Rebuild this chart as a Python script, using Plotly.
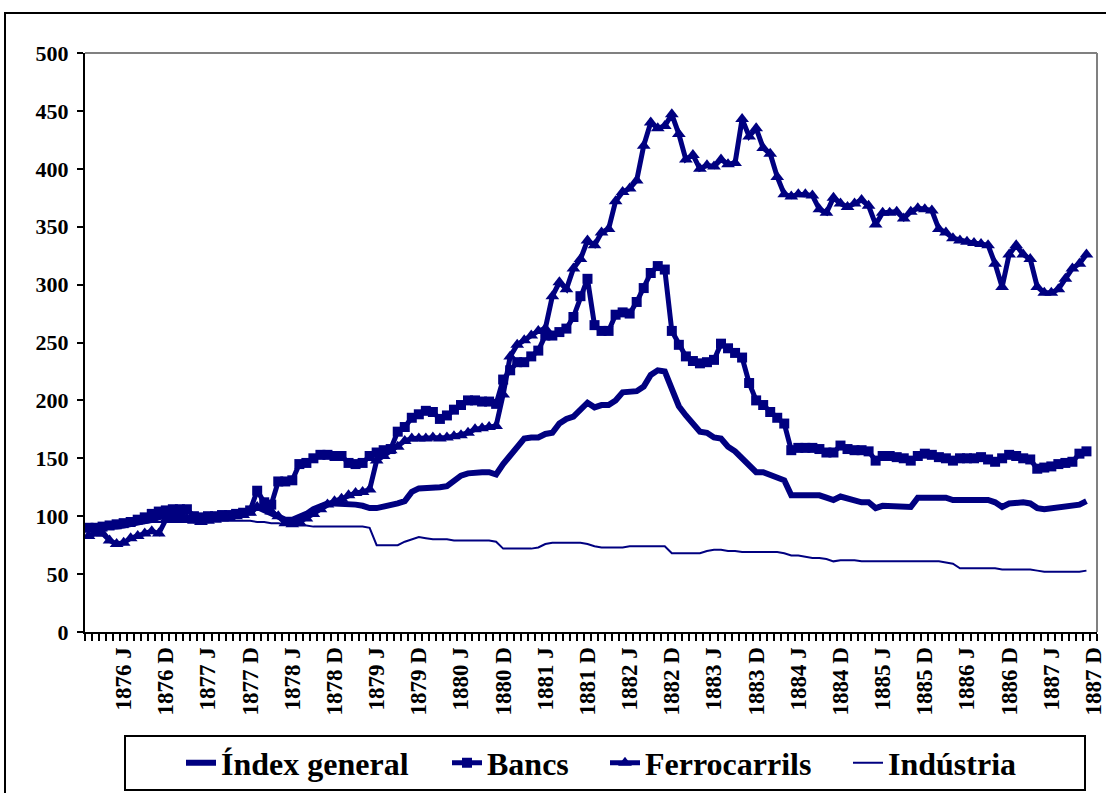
import plotly.graph_objects as go

# ---------------- data (monthly, Jan 1876 onwards) ----------------
years = list(range(1876, 1888))
months = [f"{y}-{m:02d}" for y in years for m in range(1, 13)]
tick_idx = [i for i, mth in enumerate(months) if mth.endswith("-06") or mth.endswith("-12")]
tick_text = [months[i][:4] + (" J" if months[i].endswith("-06") else " D") for i in tick_idx]

index_general = [
    90, 90, 91, 91, 91, 92, 93, 94, 95, 97, 99, 101,
    101, 100, 98, 98, 98, 99, 100, 101, 101, 102, 103, 104,
    108, 105, 103, 100, 97, 97, 99, 102, 106, 109, 111, 111,
    111, 111, 110, 109, 107, 107, 108, 109, 111, 113, 121, 124,
    124, 124, 125, 126, 130, 135, 137, 138, 138, 138, 136, 145,
    152, 160, 167, 168, 168, 171, 172, 180, 184, 186, 192, 198,
    194, 196, 196, 200, 207, 207, 208, 212, 222, 226, 225, 210,
    195, 187, 180, 173, 172, 168, 167, 160, 156, 150, 143, 138,
    138, 136, 133, 131, 118, 118, 118, 117, 118, 116, 114, 117,
    115, 113, 112, 112, 107, 109, 109, 108, 108, 108, 116, 116,
    117, 116, 116, 114, 114, 113, 113, 113, 114, 112, 108, 111,
    112, 112, 111, 107, 106, 107, 108, 108, 109, 110, 113,
]

bancs = [
    90, 90, 91, 92, 93, 94, 95, 97, 99, 102, 104, 105,
    106, 106, 106, 100, 99, 100, 100, 101, 101, 102, 103, 105,
    122, 112, 110, 130, 130, 131, 145, 146, 150, 153, 153, 152,
    152, 146, 145, 146, 152, 155, 157, 158, 173, 177, 185, 188,
    191, 190, 184, 187, 192, 196, 200, 200, 199, 199, 197, 218,
    226, 233, 233, 238, 243, 256, 256, 259, 262, 272, 290, 305,
    265, 260, 260, 274, 276, 275, 285, 297, 310, 316, 313, 260,
    248, 238, 234, 232, 233, 235, 249, 245, 241, 237, 215, 200,
    196, 190, 185, 180, 157, 159, 159, 159, 158, 155, 155, 161,
    158, 157, 157, 156, 148, 152, 152, 151, 150, 148, 152, 154,
    153, 151, 150, 148, 150, 150, 150, 151, 149, 147, 150, 153,
    152, 150, 149, 141, 142, 143, 145, 146, 147, 154, 156,
]

ferrocarrils = [
    83, 85, 85, 79, 76, 77, 81, 83, 85, 87, 85, 97,
    97, 97, 98, 96, 95, 96, 97, 98, 99, 100, 101, 103,
    108, 107, 104, 100, 94, 93, 95, 98, 102, 106, 110, 113,
    115, 118, 120, 121, 123, 148, 152, 157, 160, 165, 167, 167,
    167, 168, 167, 168, 169, 170, 172, 175, 176, 177, 178, 205,
    238, 248, 252, 256, 260, 262, 290, 302, 296, 314, 322, 338,
    334, 345, 348, 372, 380, 383, 390, 420, 440, 435, 437, 447,
    430, 408, 412, 400, 403, 402, 408, 404, 405, 443, 428, 435,
    418, 413, 393, 378, 376, 378, 378, 377, 365, 362, 375, 370,
    367, 370, 373, 368, 352, 362, 362, 363, 357, 363, 366, 365,
    364, 348, 345, 340, 338, 337, 336, 335, 334, 318, 298, 326,
    334, 326, 322, 298, 293, 293, 296, 305, 314, 318, 326,
]

industria = [
    93, 93, 93, 93, 94, 94, 94, 94, 94, 95, 95, 95,
    95, 95, 95, 95, 95, 96, 96, 96, 96, 96, 96, 96,
    95, 95, 94, 94, 93, 93, 92, 92, 91, 91, 91, 91,
    91, 91, 91, 91, 90, 75, 75, 75, 75, 78, 80, 82,
    81, 80, 80, 80, 79, 79, 79, 79, 79, 79, 78, 72,
    72, 72, 72, 72, 73, 76, 77, 77, 77, 77, 77, 76,
    74, 73, 73, 73, 73, 74, 74, 74, 74, 74, 74, 68,
    68, 68, 68, 68, 70, 71, 71, 70, 70, 69, 69, 69,
    69, 69, 69, 68, 66, 66, 65, 64, 64, 63, 61, 62,
    62, 62, 61, 61, 61, 61, 61, 61, 61, 61, 61, 61,
    61, 61, 60, 59, 55, 55, 55, 55, 55, 55, 54, 54,
    54, 54, 54, 53, 52, 52, 52, 52, 52, 52, 53,
]

series_names = ["Índex general", "Bancs", "Ferrocarrils", "Indústria"]

# ---------------- figure ----------------
NAVY = "#000080"
FONT = "Liberation Serif"
PLOT_L, PLOT_W, PLOT_B, PLOT_H = 85, 1012, 632, 579   # plot area in pixels


def px_x(p):
    return (p - PLOT_L) / PLOT_W


def px_y(p):
    return (PLOT_B - p) / PLOT_H


fig = go.Figure()

fig.add_trace(go.Scatter(
    x=list(range(len(index_general))), y=index_general, name=series_names[0],
    mode="lines", line=dict(color=NAVY, width=6), legend="legend"))
fig.add_trace(go.Scatter(
    x=list(range(len(bancs))), y=bancs, name=series_names[1],
    mode="lines+markers", line=dict(color=NAVY, width=5),
    marker=dict(symbol="square", size=10, color=NAVY, line=dict(width=0)),
    legend="legend2"))
fig.add_trace(go.Scatter(
    x=list(range(len(ferrocarrils))), y=ferrocarrils, name=series_names[2],
    mode="lines+markers", line=dict(color=NAVY, width=5),
    marker=dict(symbol="triangle-up", size=12, color=NAVY, line=dict(width=0)),
    legend="legend3"))
fig.add_trace(go.Scatter(
    x=list(range(len(industria))), y=industria, name=series_names[3],
    mode="lines", line=dict(color=NAVY, width=2), legend="legend4"))


def leg(px_left):
    return dict(
        orientation="h", x=px_x(px_left), xanchor="left",
        y=px_y(763), yanchor="middle",
        borderwidth=0, bgcolor="rgba(0,0,0,0)",
        font=dict(family=FONT, size=32, color="black", weight="bold"),
        itemsizing="trace",
    )


fig.update_layout(
    width=1106, height=793,
    margin=dict(l=85, r=9, t=53, b=161, autoexpand=False),
    paper_bgcolor="white", plot_bgcolor="white",
    font=dict(family=FONT, color="black"),
    showlegend=True,
    legend=leg(181),
    legend2=leg(447),
    legend3=leg(605),
    legend4=leg(848),
    xaxis=dict(
        range=[-0.5, len(months) - 0.5],
        tickmode="array", tickvals=tick_idx, ticktext=tick_text,
        ticks="", tickangle=-90,
        tickfont=dict(family=FONT, size=23, color="black", weight="bold"),
        showline=True, linecolor="black", linewidth=2,
        showgrid=False, zeroline=False, automargin=False,
        minor=dict(ticks="outside", tickmode="linear", tick0=-0.5, dtick=1,
                   ticklen=7, tickwidth=2, tickcolor="black", showgrid=False),
        ticklabelstandoff=4,
    ),
    yaxis=dict(
        range=[0, 500], tickmode="linear", tick0=0, dtick=50,
        ticks="outside", ticklen=6, tickwidth=2, tickcolor="black",
        tickfont=dict(family=FONT, size=22, color="black", weight="bold"),
        showline=True, linecolor="black", linewidth=2,
        showgrid=False, zeroline=False, automargin=False,
        ticklabelstandoff=4,
    ),
    shapes=[
        # plot-area border (grey top and right)
        dict(type="line", xref="paper", yref="paper", x0=0, x1=1, y0=1, y1=1,
             line=dict(color="#808080", width=2)),
        dict(type="line", xref="paper", yref="paper", x0=1, x1=1, y0=0, y1=1,
             line=dict(color="#808080", width=2)),
        # outer chart frame
        dict(type="rect", xref="paper", yref="paper",
             x0=px_x(5), x1=px_x(1120), y0=px_y(810), y1=px_y(13),
             line=dict(color="black", width=2), fillcolor="rgba(0,0,0,0)"),
        # legend box
        dict(type="rect", xref="paper", yref="paper",
             x0=px_x(125), x1=px_x(1085), y0=px_y(790), y1=px_y(736),
             line=dict(color="black", width=2), fillcolor="rgba(0,0,0,0)"),
    ],
)

fig.write_html("out.html", config={"displayModeBar": False},
               post_script="document.body.style.margin='0';")
